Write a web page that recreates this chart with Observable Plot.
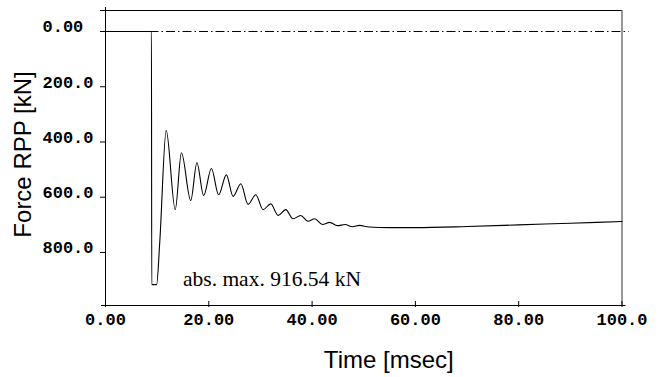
<!DOCTYPE html>
<html>
<head>
<meta charset="utf-8">
<script src="https://cdn.jsdelivr.net/npm/d3@7"></script>
<script src="https://cdn.jsdelivr.net/npm/@observablehq/plot@0.6"></script>
<style>
  html, body { margin: 0; padding: 0; background: #fff; }
  #chart svg { display: block; background: #fff; }
</style>
</head>
<body>
<div id="chart"></div>
<script>
// Time [msec]
const time = [0, 8.9, 8.95, 9.9, 10.5, 11.75, 13.5, 14.7, 16.5, 17.7, 19.0, 20.5, 21.9, 23.4, 24.7, 26.2, 27.6, 29.1, 30.5, 32.0, 33.4, 34.9, 36.3, 37.8, 39.2, 40.5, 42.0, 43.4, 44.9, 46.4, 47.8, 49.2, 51, 55, 60, 70, 80, 90, 100];
// Force RPP [kN] (positive downward)
const force = [0, 0, 916.5, 916.5, 764, 358, 645, 439, 612, 475, 594, 496, 591, 519, 597, 551, 626, 591, 645, 624, 666, 645, 678, 666, 687, 678, 699, 691, 703, 699, 707, 702, 708, 710, 710, 706, 700, 694, 688];

const xTicks = [0, 20, 40, 60, 80, 100];
const yTicks = [0, 200, 400, 600, 800];
const xDomain = [0, 100];
const yDomain = [-76, 992];
const xLabel = "Time [msec]";
const yLabel = "Force RPP [kN]";
const note = "abs. max. 916.54 kN";

const fmt = v => { let s = v.toFixed(2); if (s.length > 5) s = v.toFixed(1); return s; };
const data = time.map((t, i) => ({t, f: force[i]}));

const mono = "'Liberation Mono', 'Courier New', monospace";
const sans = "'Liberation Sans', Arial, sans-serif";
const serif = "'Liberation Serif', 'Times New Roman', serif";

const chart = Plot.plot({
  width: 658,
  height: 377,
  marginLeft: 105,
  marginRight: 36.5,
  marginTop: 10,
  marginBottom: 72,
  x: {domain: xDomain, axis: null},
  y: {domain: yDomain, reverse: true, axis: null},
  marks: [
    // zero reference line (dash-dot)
    Plot.ruleY([0], {stroke: "black", strokeWidth: 1, strokeDasharray: "9,3,1.5,3", insetLeft: -5, insetRight: -7}),
    // frame: top, right
    Plot.ruleY([yDomain[0]], {stroke: "black", strokeWidth: 1, insetLeft: -5}),
    Plot.ruleX([xDomain[1]], {stroke: "#333", strokeWidth: 1}),
    // axes lines
    Plot.ruleX([xDomain[0]], {stroke: "black", strokeWidth: 1, insetTop: -3}),
    Plot.ruleY([yDomain[1]], {stroke: "black", strokeWidth: 1, insetLeft: -4, insetRight: -4}),
    // tick marks
    Plot.axisY(yTicks, {tickSize: 5, tickFormat: () => "", stroke: "black", label: null}),
    Plot.axisX(xTicks, {tickSize: 6, dy: -4, tickFormat: () => "", stroke: "black", label: null}),
    // tick labels
    Plot.text(yTicks, {y: d => d, text: fmt, frameAnchor: "left", dx: -63, dy: 1, textAnchor: "start", lineAnchor: "bottom",
      fontFamily: mono, fontSize: 17, fontWeight: "bold", fill: "black"}),
    Plot.text(xTicks, {x: d => d, text: fmt, frameAnchor: "bottom", dy: 7, textAnchor: "middle", lineAnchor: "top",
      fontFamily: mono, fontSize: 17, fontWeight: "bold", fill: "black"}),
    // axis titles
    Plot.text([xLabel], {text: d => d, frameAnchor: "bottom", dx: 25, dy: 62, textAnchor: "middle", lineAnchor: "bottom",
      fontFamily: sans, fontSize: 24, fill: "black"}),
    Plot.text([yLabel], {text: d => d, frameAnchor: "left", rotate: -90, dx: -75, dy: -3.5, textAnchor: "middle", lineAnchor: "bottom",
      fontFamily: sans, fontSize: 24, fill: "black"}),
    // annotation
    Plot.text([note], {text: d => d, x: () => 15, y: () => 923, textAnchor: "start", lineAnchor: "bottom",
      fontFamily: serif, fontSize: 21.5, fill: "black"}),
    // curve
    Plot.line(data, {x: "t", y: "f", curve: "monotone-x", stroke: "black", strokeWidth: 1.1})
  ]
});
document.getElementById("chart").appendChild(chart);
</script>
</body>
</html>
